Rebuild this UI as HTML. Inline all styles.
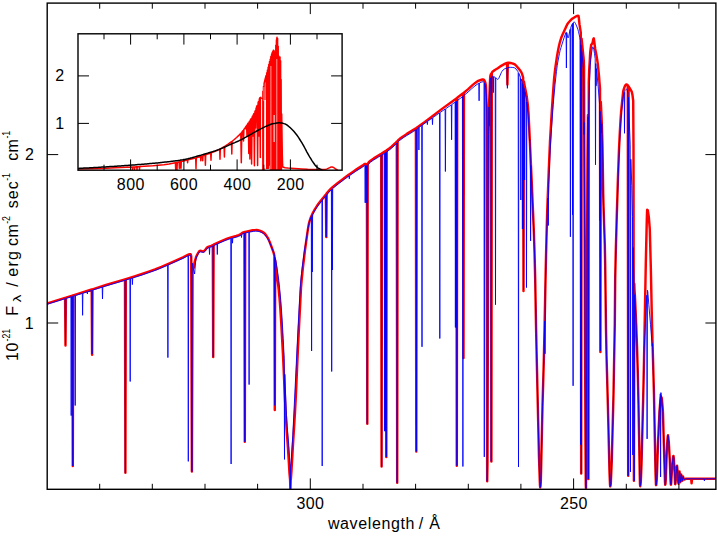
<!DOCTYPE html>
<html><head><meta charset="utf-8"><title>spectrum</title>
<style>html,body{margin:0;padding:0;background:#fff;}body{width:717px;height:536px;overflow:hidden;font-family:"Liberation Sans",sans-serif;}svg{display:block;}</style>
</head><body>
<svg width="717" height="536" viewBox="0 0 717 536">
<defs><clipPath id="cm"><rect x="47.2" y="3.1" width="668.7" height="486.2"/></clipPath>
<clipPath id="ci"><rect x="78" y="33.8" width="264.1" height="136.4"/></clipPath></defs>
<rect width="717" height="536" fill="#fff"/>
<g clip-path="url(#cm)" fill="none" stroke-linejoin="round" stroke-linecap="round">
<path d="M40 305.7L65.1 297.9L65.5 345.5L65.9 297.6L72.4 295.6L72.8 466L73.2 295.3L91.7 289.5L92.1 354.8L92.5 289.3L106 285L125 279.3L125.4 472.8L125.8 279.1L134.5 276.4L142 274L148.8 271.7L155 269.5L161.5 266.9L171.8 262.4L183 257.3L187.8 254.9L188.8 254.5L189.8 254.3L190.5 254.2L190.8 254.5L191.2 256L191.9 471.5L192.6 264.6L193 266.6L193.2 267.5L193.5 268L193.8 267.7L194.5 262.7L195.8 258.1L196.2 256.7L197 255L198.2 252.7L198.8 251.9L199.2 251.3L199.8 250.9L200.2 250.8L201 250.9L202.8 251.4L203.2 251.4L203.8 251.3L204.2 251L204.8 250.4L206.8 247.8L207.5 247.1L208.8 246.6L211.2 245.8L212.8 245L213.2 356.9L213.6 244.6L215.2 243.8L220.8 241.3L227.2 238.6L231 237.4L236.2 236L238.8 235.2L239.8 234.7L242.2 232.9L243 232.5L244.4 232.1L244.8 441.8L245.2 231.9L252.8 230.3L254.8 230.1L256.5 230L258 230.2L259.5 230.6L261.5 231.4L263.2 232.3L264.5 233.4L265.8 234.9L267.5 237.4L268.5 239.3L269.8 242.2L272.8 250.3L273.8 253.4L274.4 256L274.8 410L275.2 260.3L276.2 268.2L278.8 290.3L279.5 298L280.2 306.9L281.2 322.3L283 355L285.5 410.3L286.5 427.2L288.5 456.3L289.5 473.4L289.8 476.7L290.1 479.9L290.4 489.6L290.7 480L291 477.5L291.5 470.4L292.8 447.8L294.2 425L295 412.2L295.8 397.1L298 347L301 287.8L301.8 278.3L302.8 268.6L305 250.1L307.5 232.2L308.5 225.8L309 223.2L309.5 221.3L310.8 217.5L312.8 213L314.8 209.3L317.5 205.1L319.8 202.1L325.9 194.4L326.3 237L326.7 193.4L330.2 189.4L332 187.7L333.8 186.2L337.8 183L348 175.3L355 170.4L362.8 165.4L364.2 164.3L365 163.9L365.8 164L366.5 164.3L366.9 164.8L367.3 423.7L367.7 164.4L368 163.5L368.5 162.6L369.2 161.8L370.8 160.6L373.8 158.4L381.2 153.8L381.6 466.5L382 153.3L385.9 150.8L386.3 456.9L386.7 150.3L389.2 148.5L391.5 146.7L395 143.5L396.8 141.6L397.2 482.8L397.6 140.8L398.5 139.9L400 138.6L403.8 135.9L406.8 133.9L415.9 128.3L416.3 451.4L416.7 127.8L424.8 122L442 108.9L456.4 98.4L456.8 465.7L457.2 97.8L463.1 93.3L463.5 358L463.9 92.7L468.2 89.1L472.2 85.4L475.2 82.9L476.8 81.8L478.2 80.9L480.8 80L482.5 79.5L483.2 79.5L483.5 79.6L483.8 79.7L484.2 80.3L484.8 81.2L485.2 82.4L485.5 83.4L485.8 84.9L486 87.2L486.2 90.3L486.5 107.5L487 384.1L487.2 481.2L487.5 462.9L488.2 197.1L488.5 132.8L488.8 114.5L489 105.2L489.8 86.9L490.2 77.2L490.5 75.1L491 73.9L491.4 461.4L491.8 72.5L492.5 71.8L494.8 70L497.8 68.2L501.2 65.8L505.2 63.7L507 63L507.4 84.5L507.8 62.8L509 62.8L510.5 63L512.2 63.4L514 64L514.8 64.4L515.8 65.3L519.5 69.6L520.5 70.9L521.5 72.6L522 73.8L522.5 75.3L523.1 77.6L523.5 291L523.9 81.5L524.8 86.6L526 92.4L526.8 96.8L527.8 104.6L528.5 112.9L529.2 127.1L531.8 183.2L533.8 230.4L534.5 250.9L535.2 279.4L536 324.2L536.8 361.5L539 457.2L539.8 481.2L540 485.5L540.2 487.4L540.5 486.3L540.8 481.6L541.2 464.4L542.5 405.9L543.8 360.9L544.5 330.5L545.8 265.9L546.5 236.6L547.2 211.5L548.8 169.8L550 141.5L551.8 111.3L552.8 96.4L553.5 86.4L554.2 77.7L555 70.3L555.8 64.4L556.8 57.6L557.8 51.7L559 45.7L560 41.8L561.2 37.8L562.8 34L565.8 27.4L567.2 24.5L568 23.2L568.8 22.2L570.8 20L571.8 19.1L573 18.2L576.2 16.3L577.2 15.9L578.2 15.7L578.5 16.1L578.8 17.6L579.5 24.4L580.8 32.7L581.2 473.6L581.6 38.6L582.8 50.7L583.5 57.1L583.8 60.9L584 67L585.5 446.5L585.8 484.8L586 488.4L586.2 453.3L587.5 159.8L587.8 130.5L588 115L588.4 478.9L588.8 81.8L589.2 70.3L589.8 60.2L590.2 52.6L590.5 49.9L591 46.1L591.2 44.9L591.5 44.4L592.2 43.7L592.5 43.3L593.2 39.4L593.5 38.7L593.8 38.4L594 39.5L594.2 41.2L595.2 48.9L596.5 55.4L597.8 63.9L599 76.2L600 88.8L600.4 352L600.8 101.9L601.5 116.2L602 128.5L602.2 135.5L602.5 146.7L603.2 193.5L603.5 205.2L604.8 244.8L605.2 265.4L606 328.4L606.5 354.9L608 409.7L609.5 472.4L610 484.3L610.2 486.4L610.5 485.9L610.8 483.5L611.2 474.2L611.8 460.1L612.5 433.1L613.5 394L614.2 356.5L614.8 323.6L615.2 278.1L615.8 250.8L616.8 214.9L618 176.4L619 149.2L619.8 133.1L620.5 120.6L621.2 110.8L622.8 95.2L623.2 91.4L623.8 89.1L624.5 87.1L625 86L625.8 84.8L626.2 84.5L626.5 84.5L627 84.7L627.8 85.3L628.2 475.8L628.6 86.3L631.2 90.7L631.8 91.9L632.2 93.8L632.5 95.1L633.2 100.9L633.5 148.2L633.9 480.8L634.3 283.8L634.5 289.6L635 297.7L636.2 324.3L637 346L637.8 373.1L638.5 404.3L639.8 476.6L640 484.1L640.2 486.2L640.5 484.8L640.8 481.7L641 477.1L641.5 463.9L642.2 437.2L643.2 397L644 361.2L645.8 263.2L646.8 219.9L647 213L647.2 209.8L647.5 209.9L647.8 210.5L648 211.5L648.2 212.9L648.8 216.9L649.5 225.3L649.8 229.4L650 236.9L650.8 267L652 323.9L654 395L655.5 472.3L655.8 480.7L656 485.1L656.2 485.1L656.5 482.7L656.8 478.6L657.2 466.7L658.2 438L659.5 411.9L659.8 407.9L660.2 402.7L660.8 398.9L661 397.6L661.2 397L661.5 397.3L661.8 398.5L662 400.4L662.8 409.3L663 414.1L664.8 475.4L665 481.8L665.2 484.8L665.5 483.6L665.8 478.9L666.8 450.9L667.5 438.8L667.8 436.2L668 435.2L668.2 436.1L668.8 442L669.8 460.3L670.5 480.3L670.8 484.2L671 484.7L671.2 482.5L672.2 465.6L673 457.6L673.2 456.1L673.5 456L673.8 458.1L674 461.6L674.5 469.7L675 481L675.2 484.2L675.5 483.1L676 474.8L676.5 468.8L676.8 466.6L677 465.7L677.2 467L677.5 470L678.2 481.6L678.5 483.7L678.8 481.8L679.2 473.3L679.5 471.4L679.8 474L680.2 482.3L680.5 481.4L681 475.5L681.2 474.5L681.5 475.9L682 480.1L682.2 480.8L682.8 477.5L683 476.5L683.2 477L683.8 479.1L684 479.6L684.5 479.5L685.5 478.9L686 478.8L691.2 478.8L691.6 483.3L692 478.8L720 478.8" stroke="#f00" stroke-width="2.45"/>
<path d="M40 306.5L65.2 298.7L65.5 344.8L65.8 298.5L70.9 296.9L71.2 415.6L71.5 296.7L72.5 296.4L72.8 466L73.1 296.2L74.9 295.7L75.2 405.5L75.5 295.5L82.3 293.4L82.6 315.3L82.9 293.2L87.1 291.9L87.4 294L87.7 291.7L91.8 290.4L92.1 354L92.4 290.2L102.2 287.1L102.5 299L102.8 286.9L125.1 280.3L125.4 472.8L125.7 280.1L129.9 278.8L130.2 381.5L130.5 278.6L132.1 278.1L132.4 284.6L132.7 278L143.8 274.4L153.2 271.1L159.5 268.7L167.6 265.3L167.9 357.6L168.2 265L183 258.4L186.5 256.5L188 255.8L188.3 461.4L188.6 255.6L189.5 255.4L190.2 255.3L190.5 255.3L190.8 255.5L191.2 257.3L191.6 259.2L191.9 471.5L192.2 263.1L193 267.7L193.2 268.5L193.4 268.8L194.6 274L195.8 259L196.8 256.6L198.5 253.3L199.2 252.3L199.8 252L200 251.9L200.8 251.9L202.8 252.4L203.2 252.5L203.8 252.4L204.2 252L204.8 251.5L206.5 249.2L207.2 248.4L208 248L209.2 247.5L209.5 254.5L209.8 247.3L211.2 246.9L213 246L213.3 356.9L213.6 245.7L217 244.1L217.3 254.5L217.6 243.8L225 240.6L228 239.5L230.8 238.5L231.1 464L231.4 238.4L232.2 238.2L232.5 243.2L232.8 238L236.2 237.2L238.5 236.4L239.8 235.8L241.2 234.8L241.5 237.5L241.8 234.3L242.8 233.8L244.5 233.2L244.8 441.8L245.1 233L248.8 232.3L249.1 384.6L249.4 232.1L253.8 231.3L255.5 231.2L257 231.2L258.2 231.4L259.8 231.8L261.8 232.7L263.2 233.4L264.5 234.6L266.5 236.9L267.5 238.4L268.5 240.1L269.8 242.9L273 250.9L273.8 252.9L274.5 255.2L274.8 405.4L275.1 257.4L276.2 263L277.2 269.2L278.8 280.4L279.5 287.1L280.8 300.7L282 317.5L283.2 338.5L284.2 358.3L284.5 459.4L284.8 374.3L285.8 400L286.5 415.7L287.2 426.8L288.8 445.7L289.8 461.8L290.1 466L290.4 489.6L290.6 466.1L291 463.3L291.2 460.1L292.8 435.4L298 328.9L299.8 295.1L300.5 283.7L301.5 273.4L302.5 265.1L304.2 252.2L308 228.3L308.8 224.4L309.2 222.5L310.2 219.2L311.3 216.5L311.6 351L311.9 215.5L312 215.4L312.3 272L312.6 214.6L314.5 211L316.8 207.4L318.8 204.7L321.9 200.7L322.2 466L322.5 199.9L325.9 195.7L326.2 237L326.5 195L329 192.1L331.4 189.7L331.7 371.5L332 189.1L332.1 189L332.4 270L332.7 188.5L333.8 187.5L338.2 184L344.5 179.3L349 176L349.3 178.9L349.6 175.6L355.5 171.5L362.5 167.1L364.2 165.8L364.9 165.4L365.2 202.8L365.5 165.4L365.9 165.5L366.2 202.8L366.5 165.7L367 166.4L367.3 423.7L367.6 166.2L368.2 164.4L369 163.5L370.5 162.2L373.5 160.1L381.3 155.3L381.6 466.5L381.9 154.9L384.3 153.4L384.6 431.2L384.9 153L385.2 152.8L385.5 431.2L385.8 152.4L386 152.3L386.3 456.9L386.6 151.9L389.2 150.1L391.5 148.3L395.2 144.8L396.9 143.1L397.2 482.8L397.5 142.4L398.5 141.4L399.8 140.4L403.5 137.6L406.5 135.7L413.2 131.6L416.1 129.8L416.4 451.4L416.7 129.4L417.8 128.7L418 128L418.6 127.6L418.9 150L419.2 127.2L421.7 125.4L422 346.8L422.3 125L427.1 121.6L427.4 124.6L427.7 121.2L432.2 118.1L432.5 124.6L432.8 117.6L439.5 112.9L439.8 338.5L440.1 112.5L445.1 109.1L445.4 171.5L445.7 108.7L451.3 104.9L451.6 139.8L451.9 104.4L455.1 102.2L455.4 327.4L455.7 101.8L455.9 101.6L456.2 327.4L456.5 101.2L456.6 101.1L456.9 465.7L457.2 100.7L462.6 96.6L462.9 466.5L463.2 96.1L468 92.1L471.8 88.6L475 85.9L477 84.4L478.8 83.3L479.1 100.8L479.4 83L481 82.2L482 81.9L483 81.7L483.5 81.8L484 82.2L484.3 456.9L484.6 83.1L485.2 84.6L485.5 85.7L486 89.7L486.2 92.8L486.5 97.7L487 130L487.2 481.2L487.5 463.1L488.2 198.4L488.5 134.5L488.8 116.2L489 106.9L489.2 125.7L489.5 106.5L490 81.8L490.2 79.5L490.9 77.7L491.2 461.4L491.5 76.7L491.8 76.5L492.2 76.3L493 76.4L493.3 92.7L493.6 76.5L495.2 77.4L495.5 304.7L495.8 77.8L496.5 78.3L497.5 79.4L497.8 79.5L498 79.4L498.2 79.1L498.8 78.3L501.5 72.2L502 71.3L503.2 69.9L504.2 69.1L505.2 68.6L507.1 67.9L507.4 88.3L507.7 67.7L509 67.4L510.2 67.3L512.2 67.4L514.2 67.7L515 68.1L516 69L517.8 71.4L518.2 72.1L518.5 467L518.8 73.3L520.5 77.3L520.8 200L521.1 78.9L522.1 81.8L522.4 229L522.7 83.8L523.2 85.5L523.5 290L523.8 87.7L524.3 89.6L524.6 180L524.9 91.9L525.5 94.5L526.2 98.1L526.5 287.6L526.8 102L527.5 107.8L528 113L528.8 124.9L529.5 141L529.8 139.9L530.3 152.2L530.6 240.9L530.9 165.4L534 237.9L535 269L536.5 350.3L539 457.4L539.8 481.2L540 485.5L540.2 487.5L540.5 486.3L540.8 481.6L541 474.1L542.5 406.3L544 352.1L544.7 321.1L545 353.8L545.3 288.5L545.8 266.9L546.8 229L547.8 198L548 199.1L548.3 225.5L548.6 184.7L550.2 149.1L551.5 128.5L553.2 104.7L555 84.8L556.5 71.3L557.2 65.8L558 61L558.8 56.9L559.5 53.3L560.2 50.2L561 47.5L564 37.9L565.8 32.9L566.1 32.3L566.4 68L566.7 32.6L567.8 37.6L568 38L568.2 37.8L568.8 36.2L570.1 29.4L570.4 236.8L570.7 27.5L572.2 24.2L572.5 214.8L572.8 23.1L573.1 385.8L573.4 22.4L573.8 22.1L574.2 22L574.8 22.3L575.5 23.5L577 27L577.8 29.1L578.5 31.7L579.2 34.8L579.8 37.3L580.3 40.6L580.6 444.7L580.9 44.9L581.1 46.5L581.4 473.6L581.7 51.3L583.2 66L583.5 69.7L583.8 86.1L584 134.5L584.2 122.5L585.5 446.7L585.8 484.8L586 488.4L586.2 453.5L587.5 161.2L587.8 132.1L588 116.7L588.1 121.1L588.4 478.9L588.7 108.5L589.5 81.1L589.8 74.8L590.2 65.7L590.8 59.4L591.5 53L592 49.9L592.5 47.5L592.8 46.9L593 46.8L593.2 47.3L593.8 49.4L594.5 53.6L595.2 58.7L595.5 164.8L595.8 63.6L596.1 85.8L596.4 68.6L597 74L598 84.6L599.6 104.4L599.9 220.5L600.1 111.4L600.4 351L600.7 120.2L601.5 132.8L601.8 123.8L602 130.2L602.2 137.1L602.5 148.3L603.2 194.9L603.5 206.5L604.8 245.9L605.2 266.4L606 329.1L606.5 355.5L608 410.1L609.5 472.5L610 484.3L610.2 486.5L610.5 485.9L610.8 483.6L611.2 474.3L611.8 460.2L612.5 433.4L613.5 394.4L614.2 357.1L614.8 324.4L615.2 279L615.8 251.9L616.8 216.1L618.8 159.8L619.8 138.1L621 118.3L621.5 112.3L622.5 102.5L623.2 96.5L623.8 93.8L624.2 92.5L624.5 133.3L624.8 91.2L625.2 90.3L625.8 89.6L626.2 89.2L626.5 89.1L626.8 89.2L627 89.5L627.2 90.1L627.9 92.9L628.2 475.8L628.5 97.1L628.8 102.5L629.5 127L630.2 144.8L630.5 472L630.8 159.3L631.8 185.6L632.5 216.4L632.8 455L633.1 247.5L633.9 279.1L634.2 480.8L634.5 297.4L634.8 294.6L635 298.6L636.2 325L637 346.6L637.8 373.6L638.5 404.7L639.8 476.6L640 484.2L640.2 486.2L640.5 484.8L640.8 481.8L641 477.1L641.8 455.8L643.5 387L644.2 348.9L646 308.8L646.8 295.2L647.1 438.9L647.4 290.3L647.5 290.2L647.8 291.7L648 294.3L648.8 304.4L650.5 324.4L652.2 346.1L652.5 343.6L654 395.4L655.5 472.4L655.8 480.7L656 485.1L656.2 485.1L656.5 482.7L656.8 478.6L657.2 466.7L658.2 438L658.5 436.3L659.2 412.6L659.8 402.3L660.3 393.8L660.6 477L660.9 392.6L661.2 394.4L661.8 399L662.8 412.5L663.2 424.9L664.8 475.4L665 481.8L665.2 484.8L665.5 483.6L665.8 478.9L666.8 450.9L667.5 438.8L667.8 436.2L668 435.2L668.2 436.1L668.8 442L669.8 460.3L670.5 480.3L670.8 484.2L671 484.7L671.2 482.5L672.2 465.6L673 457.6L673.2 456.1L673.5 456L673.8 458.1L674 461.6L674.5 469.7L675 481L675.2 484.2L675.5 483.1L676 474.8L676.5 468.8L676.8 466.6L677 465.7L677.2 467L677.5 470L678.2 481.6L678.5 483.7L678.8 481.8L679.2 473.3L679.5 471.4L679.8 474L680.2 482.3L680.5 481.4L681 475.5L681.2 474.5L681.5 475.9L682 480.1L682.2 480.8L682.8 477.5L683 476.5L683.2 477L683.8 479.1L684 479.6L684.5 479.5L685.5 478.9L686 478.8L704.1 478.8L704.4 480.9L704.7 478.8L720 478.8" stroke="#00f" stroke-width="0.9"/>
</g>
<rect x="78" y="33.8" width="264.1" height="136.4" fill="#fff"/>
<g clip-path="url(#ci)" fill="none" stroke-linejoin="round">
<path d="M77.8 169L89.3 168.8L101.5 168.4L115.3 167.8L132.2 167L132.5 169.3L132.8 167L134.2 166.9L134.5 169.3L134.8 166.9L136.7 166.8L137 169.3L137.3 166.8L139.2 166.7L139.5 169.3L139.8 166.6L152.8 165.8L163.8 164.7L169.1 164L175.4 162.8L175.7 169.6L176 162.6L176.7 162.5L177 169.6L177.3 162.3L179.1 161.9L179.4 168.4L179.7 161.8L180.7 161.5L181 168.4L181.3 161.4L187.3 160L187.6 162.7L187.9 159.8L195.7 157.9L196 168.7L196.3 157.7L200.5 156.5L200.8 160.8L201.1 156.3L202.4 155.9L202.7 160.8L203 155.7L205.1 155L205.4 165.2L205.7 154.8L210.7 153L211 160.2L211.3 152.8L215.6 151.1L219.7 149.2L220 159.2L220.3 148.9L224.1 146.7L224.4 157L224.7 146.4L228.1 144.2L231.5 141.7L231.8 153.9L232.1 141.3L234.3 139.5L236.6 137.5L238.8 135.4L240.8 133.3L241.3 162.7L241.8 132.1L243.1 130.5L243.5 141L243.9 129.4L245 127.9L245.3 128.8L245.6 127L246.6 125.6L247 136L247.4 124.4L248.3 123L248.8 153.5L249.3 121.5L249.4 121.4L249.9 159.1L250.4 119.8L251.1 118.7L251.6 164L252.1 117L252.6 116.1L253 136L253.4 114.6L253.9 113.6L254.4 165.7L254.9 111.5L255.2 110.8L255.6 128L256 108.7L257.1 105.5L257.6 165.4L258.1 102.5L258.5 101.5L258.9 136L259.3 99.2L259.8 97.7L260.3 157.4L260.8 97.2L261.1 98.6L261.3 99L262.1 99L262.3 98.7L262.6 169.9L262.9 91.2L263.2 169.9L263.5 86.6L263.8 169.9L264.1 83.5L264.8 80.4L266.1 75.4L266.4 168.2L266.7 73.2L266.8 72.8L267.1 168.2L267.4 70.4L267.5 70L267.8 168.2L268.1 67.5L268.2 67.1L268.5 168.2L268.8 64.6L268.9 64.2L269.2 165L269.5 61.9L269.6 61.5L269.9 163.3L270.2 59.3L270.5 169.9L270.8 57L271 56.2L271.3 169.9L271.6 54.1L271.9 169.9L272.2 52.4L272.5 169.9L272.8 51.2L273.1 169.9L273.4 50.3L273.7 169.9L274 50.6L274.3 169.9L274.6 54.4L274.9 169.9L275.2 51.8L275.5 169.9L275.8 45.2L276.1 169.9L276.4 40.6L277 37.3L277.3 169.9L277.6 38.5L277.9 169.9L278.2 46.2L278.5 169.9L278.8 56L279.1 169.9L279.4 56.9L279.7 169.9L280 57.1L280.3 169.9L280.6 60.7L280.9 169.9L281.1 79.6L281.4 169.9L281.7 113.9L282.3 154.8L282.6 164.9L282.8 167.1L285.1 167.7L287.8 168.1L301.8 168.9L307.6 169.2L314.6 169.4L324.6 169.5L325.6 169.4L327.1 168.9L330.8 167.1L331.6 166.9L332.1 166.9L332.8 167.2L333.8 167.7L335.6 169L337.1 169.8L338.3 171L338.8 171.4L340.6 171.8L342.3 172" stroke="#f00" stroke-width="1.5"/>
<path d="M261.6 99V169.4M274.1 115V142" stroke="#fff" stroke-width="1" stroke-linecap="butt"/>
<path d="M263.9 87V101" stroke="#fff" stroke-width="0.5"/>
<path d="M265.1 100V168.2" stroke="#fff" stroke-width="1.6"/>
<path d="M270.9 66V169.4" stroke="#fff" stroke-width="0.6"/>
<path d="M276.8 59V169.4" stroke="#fff" stroke-width="0.6"/>
<path d="M77.8 168.4L78.8 168.4L79.8 168.3L80.8 168.3L81.8 168.2L82.8 168.2L83.8 168.1L84.8 168.1L85.8 168L86.8 168L87.8 167.9L88.8 167.9L89.8 167.8L90.8 167.8L91.8 167.7L92.8 167.7L93.8 167.6L94.8 167.6L95.8 167.5L96.8 167.4L97.8 167.4L98.8 167.3L99.8 167.3L100.8 167.2L101.8 167.1L102.8 167.1L103.8 167L104.8 167L105.8 166.9L106.8 166.8L107.8 166.8L108.8 166.7L109.8 166.6L110.8 166.6L111.8 166.5L112.8 166.5L113.8 166.4L114.8 166.3L115.8 166.2L116.8 166.2L117.8 166.1L118.8 166L119.8 166L120.8 165.9L121.8 165.8L122.8 165.8L123.8 165.7L124.8 165.6L125.8 165.5L126.8 165.5L127.8 165.4L128.8 165.3L129.8 165.3L130.8 165.2L131.8 165.1L132.8 165L133.8 165L134.8 164.9L135.8 164.8L136.8 164.7L137.8 164.6L138.8 164.6L139.8 164.5L140.8 164.4L141.8 164.3L142.8 164.2L143.8 164.2L144.8 164.1L145.8 164L146.8 163.9L147.8 163.8L148.8 163.7L149.8 163.6L150.8 163.5L151.8 163.4L152.8 163.3L153.8 163.2L154.8 163.2L155.8 163.1L156.8 163L157.8 162.9L158.8 162.8L159.8 162.7L160.8 162.5L161.8 162.4L162.8 162.3L163.8 162.2L164.8 162.1L165.8 162L166.8 161.9L167.8 161.8L168.8 161.7L169.8 161.6L170.8 161.4L171.8 161.3L172.8 161.2L173.8 161.1L174.8 161L175.8 160.8L176.8 160.7L177.8 160.6L178.8 160.4L179.8 160.3L180.8 160.1L181.8 159.9L182.8 159.8L183.8 159.6L184.8 159.4L185.8 159.2L186.8 159L187.8 158.8L188.8 158.5L189.8 158.3L190.8 158L191.8 157.8L192.8 157.5L193.8 157.2L194.8 156.9L195.8 156.6L196.8 156.3L197.8 156L198.8 155.7L199.8 155.4L200.8 155.2L201.8 154.9L202.8 154.6L203.8 154.3L204.8 154L205.8 153.7L206.8 153.4L207.8 153.1L208.8 152.8L209.8 152.5L210.8 152.2L211.8 151.9L212.8 151.6L213.8 151.3L214.8 151L215.8 150.6L216.8 150.3L217.8 149.9L218.8 149.6L219.8 149.2L220.8 148.8L221.8 148.4L222.8 147.9L223.8 147.5L224.8 147L225.8 146.6L226.8 146.1L227.8 145.6L228.8 145.2L229.8 144.7L230.8 144.3L231.8 143.8L232.8 143.4L233.8 143L234.8 142.6L235.8 142.1L236.8 141.7L237.8 141.3L238.8 140.8L239.8 140.3L240.8 139.9L241.8 139.3L242.8 138.8L243.8 138.3L244.8 137.7L245.8 137.2L246.8 136.6L247.8 136.1L248.8 135.5L249.8 134.9L250.8 134.3L251.8 133.8L252.8 133.2L253.8 132.6L254.8 132.1L255.8 131.6L256.8 131L257.8 130.5L258.8 129.9L259.8 129.4L260.8 128.9L261.8 128.3L262.8 127.8L263.8 127.4L264.8 126.9L265.8 126.4L266.8 126L267.8 125.5L268.8 125.1L269.8 124.7L270.8 124.3L271.8 124L272.8 123.8L273.8 123.6L274.8 123.4L275.8 123.2L276.8 123L277.8 122.9L278.8 122.8L279.8 122.8L280.8 122.9L281.8 123.1L282.8 123.3L283.8 123.6L284.8 123.9L285.8 124.3L286.8 124.9L287.8 125.7L288.8 126.5L289.8 127.3L290.8 128.2L291.8 129.2L292.8 130.2L293.8 131.3L294.8 132.5L295.8 133.7L296.8 135L297.8 136.4L298.8 137.9L299.8 139.5L300.8 141.1L301.8 142.7L302.8 144.3L303.8 146.1L304.8 148L305.8 149.9L306.8 151.8L307.8 153.6L308.8 155.4L309.8 157.1L310.8 158.7L311.8 160.3L312.8 161.8L313.8 163.3L314.8 164.7L315.8 165.9L316.8 166.9L317.8 167.8L318.8 168.5L319.8 169L320.8 169.3L321.8 170L322.8 171.1L323.8 171.5L324.8 171.7L325.8 171.8L326.8 171.9L327.8 172L328.8 172L329.8 172.1L330.8 172.2L331.8 172.2L332.8 172.3L333.8 172.3L334.8 172.4L335.8 172.4L336.8 172.4L337.8 172.5L338.8 172.5L339.8 172.5L340.8 172.5L341.8 172.5" stroke="#000" stroke-width="1.5"/>
</g>
<g fill="none" stroke="#000" stroke-width="1.4">
<rect x="47.2" y="3.1" width="668.7" height="486.2"/>
<rect x="78" y="33.8" width="264.1" height="136.4"/>
</g>
<g fill="none" stroke="#000" stroke-width="1">
<path d="M99.7 489.4v-5.6M99.7 3.1v5.6M152.3 489.4v-5.6M152.3 3.1v5.6M205 489.4v-5.6M205 3.1v5.6M257.6 489.4v-5.6M257.6 3.1v5.6M310.3 489.4v-11M310.3 3.1v11M363 489.4v-5.6M363 3.1v5.6M415.6 489.4v-5.6M415.6 3.1v5.6M468.3 489.4v-5.6M468.3 3.1v5.6M520.9 489.4v-5.6M520.9 3.1v5.6M573.6 489.4v-11M573.6 3.1v11M626.3 489.4v-5.6M626.3 3.1v5.6M678.9 489.4v-5.6M678.9 3.1v5.6M47.2 154.6h11M715.9 154.6h-10.5M47.2 323h11M715.9 323h-10.5"/>
<path d="M104 170.2v-5.5M104 33.8v5.5M130.6 170.2v-10.8M130.6 33.8v10.8M157.2 170.2v-5.5M157.2 33.8v5.5M183.9 170.2v-10.8M183.9 33.8v10.8M210.5 170.2v-5.5M210.5 33.8v5.5M237.1 170.2v-10.8M237.1 33.8v10.8M263.8 170.2v-5.5M263.8 33.8v5.5M290.4 170.2v-10.8M290.4 33.8v10.8M317 170.2v-5.5M317 33.8v5.5M78 75.9h11M342.1 75.9h-11M78 123.4h11M342.1 123.4h-11"/>
</g>
<g font-family="'Liberation Sans', sans-serif" fill="#000">
<text x="310.4" y="508.7" text-anchor="middle" font-size="16" letter-spacing="0.4">300</text>
<text x="573.9" y="508.7" text-anchor="middle" font-size="16" letter-spacing="0.4">250</text>
<text x="33.7" y="329" text-anchor="end" font-size="16">1</text>
<text x="33.9" y="159.8" text-anchor="end" font-size="16">2</text>
<text x="130.8" y="189.6" text-anchor="middle" font-size="16" letter-spacing="0.4">800</text>
<text x="184" y="189.6" text-anchor="middle" font-size="16" letter-spacing="0.4">600</text>
<text x="237.4" y="189.6" text-anchor="middle" font-size="16" letter-spacing="0.4">400</text>
<text x="290.6" y="189.6" text-anchor="middle" font-size="16" letter-spacing="0.4">200</text>
<text x="64.2" y="81.4" text-anchor="end" font-size="16">2</text>
<text x="64.2" y="129" text-anchor="end" font-size="16">1</text>
<text x="327.9" y="529.2" text-anchor="start" font-size="16" letter-spacing="0.62">wavelength</text>
<text x="418.7" y="529.2" text-anchor="start" font-size="16">/</text>
<text x="429.2" y="529.2" text-anchor="start" font-size="16">&#197;</text>
<text transform="translate(18.3 361) rotate(-90)" font-size="16" letter-spacing="0.6">10</text>
<text transform="translate(10 341.5) rotate(-90) scale(0.84 1)" font-size="10.4" letter-spacing="0">-21</text>
<text transform="translate(18.3 315.8) rotate(-90)" font-size="16" letter-spacing="0.6">F</text>
<text transform="translate(21 302.2) rotate(-90) scale(1.35 1)" font-size="11.5" letter-spacing="0">&#955;</text>
<text transform="translate(18.3 286.8) rotate(-90)" font-size="16" letter-spacing="0.6">/</text>
<text transform="translate(18.3 276.8) rotate(-90)" font-size="16" letter-spacing="1.3">erg</text>
<text transform="translate(18.3 246) rotate(-90)" font-size="16" letter-spacing="0.4">cm</text>
<text transform="translate(10 223.8) rotate(-90) scale(0.84 1)" font-size="10.4" letter-spacing="0">-2</text>
<text transform="translate(18.3 208.2) rotate(-90)" font-size="16" letter-spacing="1.0">sec</text>
<text transform="translate(10 180.8) rotate(-90) scale(0.84 1)" font-size="10.4" letter-spacing="0">-1</text>
<text transform="translate(18.3 160.8) rotate(-90)" font-size="16" letter-spacing="0.4">cm</text>
<text transform="translate(10 138.6) rotate(-90) scale(0.84 1)" font-size="10.4" letter-spacing="0">-1</text>
</g>
</svg>
</body></html>
